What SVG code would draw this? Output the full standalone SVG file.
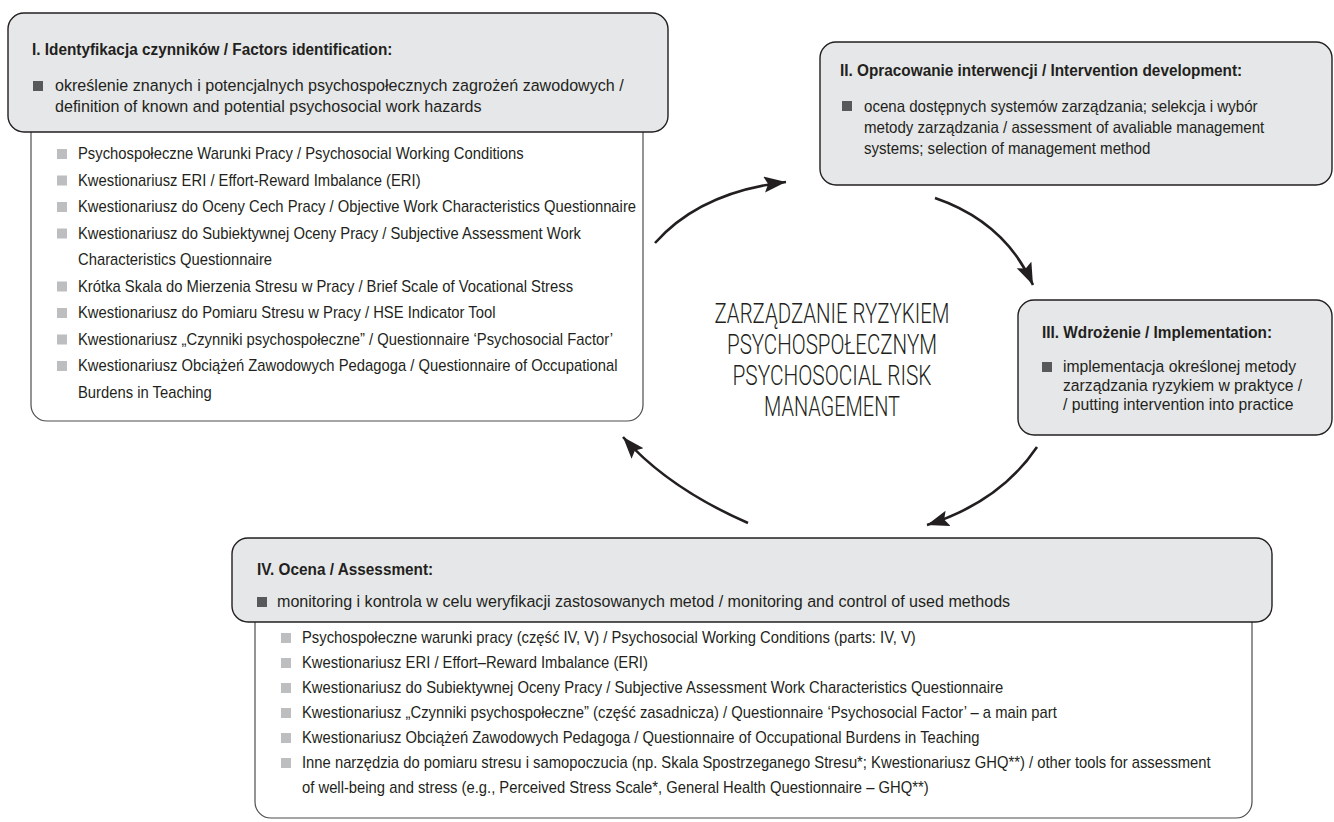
<svg xmlns="http://www.w3.org/2000/svg" width="1334" height="822" viewBox="0 0 1334 822">
<defs>
<style>
.t{font-family:"Liberation Sans",Arial,sans-serif;fill:#231f20}
.ttl{font-weight:bold;font-size:16.5px}
.hb{font-size:17.4px}
.bb{font-size:17px}
.b2{font-size:16.3px}
.li{font-size:16px}
.ctr{font-family:Roboto,"Liberation Sans",sans-serif;font-weight:300;font-size:27.5px;text-anchor:middle;fill:#231f20}
.hdr{fill:#e6e7e8;stroke:#231f20;stroke-width:1.4}
.body{fill:#fff;stroke:#4d4d4f;stroke-width:1.2}
.sqd{fill:#58595b}
.sql{fill:#bcbec0}
.arr{fill:none;stroke:#231f20;stroke-width:2.6}
</style>
<marker id="ah" markerUnits="userSpaceOnUse" markerWidth="24" markerHeight="18" refX="22" refY="8" orient="auto">
<path d="M0,0 L22,8 L0,16 L4,8 z" fill="#231f20"/>
</marker>
</defs>
<rect width="1334" height="822" fill="#fff"/>

<g id="node-I">
<path class="body" d="M31,120 V405 A16,16 0 0 0 47,421 H627 A16,16 0 0 0 643,405 V120"/>
<rect class="hdr" x="8" y="13" width="660" height="119" rx="16"/>
<text class="t ttl" transform="translate(32 55) scale(.93 1)">I. Identyfikacja czynników / Factors identification:</text>
<rect class="sqd" x="33" y="81" width="10" height="10"/>
<text class="t hb" transform="translate(55 91) scale(.925 1)">określenie znanych i potencjalnych psychospołecznych zagrożeń zawodowych /</text>
<text class="t hb" transform="translate(55 112) scale(.925 1)">definition of known and potential psychosocial work hazards</text>
<rect class="sql" x="57" y="149" width="10" height="10"/>
<text class="t li" transform="translate(78 159) scale(.925 1)">Psychospołeczne Warunki Pracy / Psychosocial Working Conditions</text>
<rect class="sql" x="57" y="175.5" width="10" height="10"/>
<text class="t li" transform="translate(78 185.5) scale(.925 1)">Kwestionariusz ERI / Effort-Reward Imbalance (ERI)</text>
<rect class="sql" x="57" y="202" width="10" height="10"/>
<text class="t li" transform="translate(78 212) scale(.925 1)">Kwestionariusz do Oceny Cech Pracy / Objective Work Characteristics Questionnaire</text>
<rect class="sql" x="57" y="228.5" width="10" height="10"/>
<text class="t li" transform="translate(78 238.5) scale(.925 1)">Kwestionariusz do Subiektywnej Oceny Pracy / Subjective Assessment Work</text>
<text class="t li" transform="translate(78 265) scale(.925 1)">Characteristics Questionnaire</text>
<rect class="sql" x="57" y="281.5" width="10" height="10"/>
<text class="t li" transform="translate(78 291.5) scale(.925 1)">Krótka Skala do Mierzenia Stresu w Pracy / Brief Scale of Vocational Stress</text>
<rect class="sql" x="57" y="308" width="10" height="10"/>
<text class="t li" transform="translate(78 318) scale(.925 1)">Kwestionariusz do Pomiaru Stresu w Pracy / HSE Indicator Tool</text>
<rect class="sql" x="57" y="334.5" width="10" height="10"/>
<text class="t li" transform="translate(78 344.5) scale(.925 1)">Kwestionariusz „Czynniki psychospołeczne” / Questionnaire ‘Psychosocial Factor’</text>
<rect class="sql" x="57" y="361" width="10" height="10"/>
<text class="t li" transform="translate(78 371) scale(.925 1)">Kwestionariusz Obciążeń Zawodowych Pedagoga / Questionnaire of Occupational</text>
<text class="t li" transform="translate(78 397.5) scale(.925 1)">Burdens in Teaching</text>
</g>

<g id="node-II">
<rect class="hdr" x="820" y="42" width="512" height="143" rx="16"/>
<text class="t ttl" transform="translate(840 76) scale(.93 1)">II. Opracowanie interwencji / Intervention development:</text>
<rect class="sqd" x="842" y="101" width="10" height="10"/>
<text class="t b2" transform="translate(864 112) scale(.925 1)">ocena dostępnych systemów zarządzania; selekcja i wybór</text>
<text class="t b2" transform="translate(864 133) scale(.925 1)">metody zarządzania / assessment of avaliable management</text>
<text class="t b2" transform="translate(864 154) scale(.925 1)">systems; selection of management method</text>
</g>

<g id="node-III">
<rect class="hdr" x="1018" y="300" width="314" height="135" rx="16"/>
<text class="t ttl" transform="translate(1042 338) scale(.93 1)">III. Wdrożenie / Implementation:</text>
<rect class="sqd" x="1042" y="362" width="10" height="10"/>
<text class="t bb" transform="translate(1063 372) scale(.925 1)">implementacja określonej metody</text>
<text class="t bb" transform="translate(1063 391) scale(.925 1)">zarządzania ryzykiem w praktyce /</text>
<text class="t bb" transform="translate(1063 410) scale(.925 1)">/ putting intervention into practice</text>
</g>

<g id="node-IV">
<path class="body" d="M255,610 V802 A16,16 0 0 0 271,818 H1236 A16,16 0 0 0 1252,802 V610"/>
<rect class="hdr" x="232" y="538" width="1040" height="84" rx="16"/>
<text class="t ttl" transform="translate(257 575) scale(.93 1)">IV. Ocena / Assessment:</text>
<rect class="sqd" x="257" y="597" width="10" height="10"/>
<text class="t hb" transform="translate(277 607) scale(.925 1)">monitoring i kontrola w celu weryfikacji zastosowanych metod / monitoring and control of used methods</text>
<rect class="sql" x="281" y="633" width="10" height="10"/>
<text class="t li" transform="translate(302 643) scale(.925 1)">Psychospołeczne warunki pracy (część IV, V) / Psychosocial Working Conditions (parts: IV, V)</text>
<rect class="sql" x="281" y="658" width="10" height="10"/>
<text class="t li" transform="translate(302 668) scale(.925 1)">Kwestionariusz ERI / Effort–Reward Imbalance (ERI)</text>
<rect class="sql" x="281" y="683" width="10" height="10"/>
<text class="t li" transform="translate(302 693) scale(.925 1)">Kwestionariusz do Subiektywnej Oceny Pracy / Subjective Assessment Work Characteristics Questionnaire</text>
<rect class="sql" x="281" y="708" width="10" height="10"/>
<text class="t li" transform="translate(302 718) scale(.925 1)">Kwestionariusz „Czynniki psychospołeczne” (część zasadnicza) / Questionnaire ‘Psychosocial Factor’ – a main part</text>
<rect class="sql" x="281" y="733" width="10" height="10"/>
<text class="t li" transform="translate(302 743) scale(.925 1)">Kwestionariusz Obciążeń Zawodowych Pedagoga / Questionnaire of Occupational Burdens in Teaching</text>
<rect class="sql" x="281" y="758" width="10" height="10"/>
<text class="t li" transform="translate(302 768) scale(.925 1)">Inne narzędzia do pomiaru stresu i samopoczucia (np. Skala Spostrzeganego Stresu*; Kwestionariusz GHQ**) / other tools for assessment</text>
<text class="t li" transform="translate(302 793) scale(.925 1)">of well-being and stress (e.g., Perceived Stress Scale*, General Health Questionnaire – GHQ**)</text>
</g>

<g id="center-title">
<text class="ctr" x="832" y="323" textLength="235" lengthAdjust="spacingAndGlyphs">ZARZĄDZANIE RYZYKIEM</text>
<text class="ctr" x="832" y="354" textLength="210" lengthAdjust="spacingAndGlyphs">PSYCHOSPOŁECZNYM</text>
<text class="ctr" x="832" y="385" textLength="199" lengthAdjust="spacingAndGlyphs">PSYCHOSOCIAL RISK</text>
<text class="ctr" x="832" y="416" textLength="136" lengthAdjust="spacingAndGlyphs">MANAGEMENT</text>
</g>

<g id="connectors">
<path class="arr" marker-end="url(#ah)" d="M655,243 Q700,192 786,182"/>
<path class="arr" marker-end="url(#ah)" d="M935,198 Q1005,222 1033,285"/>
<path class="arr" marker-end="url(#ah)" d="M1037,447 Q1000,502 927,525"/>
<path class="arr" marker-end="url(#ah)" d="M748,523 Q668,488 623,437"/>
</g>
</svg>
